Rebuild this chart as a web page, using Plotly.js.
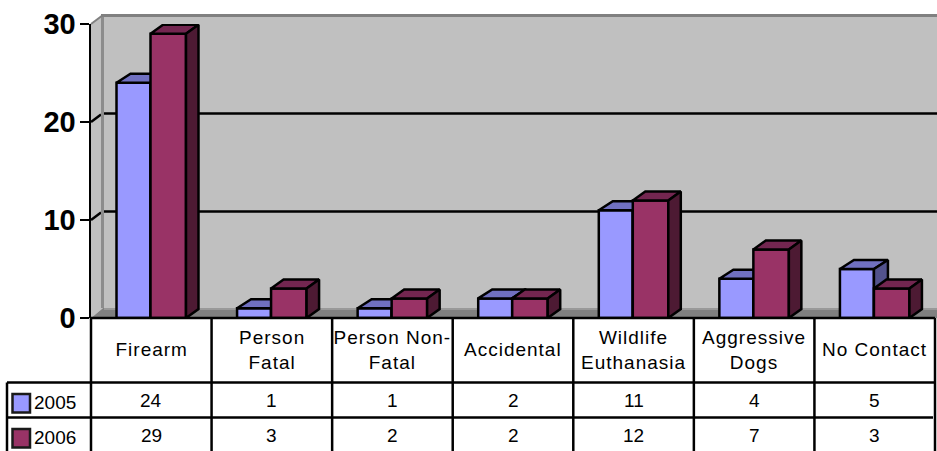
<!DOCTYPE html>
<html>
<head>
<meta charset="utf-8">
<script src="https://cdn.plot.ly/plotly-3.0.1.min.js"></script>
<style>
  html, body { margin: 0; padding: 0; background: #fff; overflow: hidden; }
</style>
</head>
<body>
<div id="chart" style="width:937px;height:451px"></div>
<script>
// Incident counts by category for two years
const categories = ["Firearm", "Person<br>Fatal", "Person Non-<br>Fatal", "Accidental",
                    "Wildlife<br>Euthanasia", "Aggressive<br>Dogs", "No Contact"];
const years = ["2005", "2006"];
const values2005 = [24, 1, 1, 2, 11, 4, 5];
const values2006 = [29, 3, 2, 2, 12, 7, 3];
const yTicks = [0, 10, 20, 30];

// Canvas geometry, in pixels
const W = 937, H = 451;
const L = 91, R = 935, T = 24, B = 318;
const plotW = R - L, plotH = B - T;
const catPx = plotW / categories.length;
const unitPx = plotH / 30;
const RULE = 2.5;

const px = x => (x - L) / plotW;
const py = y => 1 - (y - T) / plotH;

// Faux-3D extrusion expressed in axis units
const barW2005 = 34 / catPx;
const barW2006 = 35.5 / catPx;
const depth2005 = 14 / catPx;
const depth2006 = 12.5 / catPx;
const depthY = 9 / unitPx;

// Top and side faces of a bar series, separated by gaps so one trace holds them all
function facePolys(vals, x0, barW, depthX, face) {
  const xs = [], ys = [];
  vals.forEach((v, i) => {
    const a = i + x0, b = a + barW;
    if (face === "top") {
      xs.push(a, a + depthX, b + depthX, b, a, null);
      ys.push(v, v + depthY, v + depthY, v, v, null);
    } else {
      xs.push(b, b + depthX, b + depthX, b, b, null);
      ys.push(v, v + depthY, depthY, 0, v, null);
    }
  });
  return { x: xs, y: ys };
}

function face(vals, x0, barW, depthX, which, fill, yaxis) {
  const p = facePolys(vals, x0, barW, depthX, which);
  return {
    type: "scatter", mode: "lines", x: p.x, y: p.y, yaxis,
    fill: "toself", fillcolor: fill,
    line: { color: "#000", width: RULE },
    cliponaxis: false, hoverinfo: "skip", showlegend: false
  };
}

function bars(vals, name, off, barW, color, yaxis) {
  return {
    type: "bar", name, x: vals.map((_, i) => i), y: vals, yaxis,
    offset: off, width: barW,
    marker: { color, line: { color: "#000", width: RULE } },
    cliponaxis: false, showlegend: false
  };
}

// 2006 sits on an overlaid axis so its faces stack over the 2005 side faces
const traces = [
  bars(values2005, "2005", -barW2005, barW2005, "#9999FF", "y"),
  face(values2005, -barW2005, barW2005, depth2005, "top", "#7070C0", "y"),
  face(values2005, -barW2005, barW2005, depth2005, "side", "#52528C", "y"),
  bars(values2006, "2006", 0, barW2006, "#993366", "y2"),
  face(values2006, 0, barW2006, depth2006, "top", "#732650", "y2"),
  face(values2006, 0, barW2006, depth2006, "side", "#4D1A33", "y2")
];

const rect = (x0, y0, x1, y1, fill, line, lw) => ({
  type: "rect", xref: "paper", yref: "paper", layer: "below",
  x0: px(x0), x1: px(x1), y0: py(y0), y1: py(y1),
  fillcolor: fill, line: line ? { color: line, width: lw } : { width: 0 }
});
const seg = (x0, y0, x1, y1, color, lw, layer) => ({
  type: "line", xref: "paper", yref: "paper", layer: layer || "above",
  x0: px(x0), x1: px(x1), y0: py(y0), y1: py(y1),
  line: { color, width: lw }
});
const poly = (pts, fill) => ({
  type: "path", xref: "paper", yref: "paper", layer: "below",
  path: "M" + pts.map(p => px(p[0]) * 1 + "," + py(p[1])).join("L") + "Z",
  fillcolor: fill, line: { width: 0 }
});

// Walls and floor
const shapes = [
  rect(103, 15, 937, 308, "#C0C0C0"),
  poly([[91, 24], [103, 15], [103, 308], [91, 318]], "#C0C0C0")
];
// Gridlines on the back wall, with the short diagonal across the side wall
[10, 20].forEach(v => {
  const yFront = B - v * unitPx, yBack = yFront - 8.5;
  shapes.push(seg(104, yBack, 937, yBack, "#000", RULE, "below"));
  shapes.push(seg(91, yFront, 101, yBack + 1, "#000", RULE, "below"));
});
shapes.push(
  poly([[91, 318], [103, 308], [937, 308], [937, 318]], "#808080"),
  rect(104, 308, 937, 310, "#999999"),
  rect(101, 15, 104, 308, "#8C8C8C"),
  rect(101, 14, 937, 17, "#808080"),
  seg(91, 24, 103, 15, "#808080", 2, "below")
);

// Data table rules
const colEdges = categories.map((_, i) => L + catPx * i);
colEdges.slice(1).forEach(x => shapes.push(seg(x, B, x, H, "#000", RULE)));
shapes.push(
  seg(R, B, R, H, "#000", RULE),
  seg(L, B, L, H, "#000", RULE),
  seg(7, 382.5, 7, H, "#000", RULE),
  seg(L, B, R, B, "#000", RULE),
  seg(7, 382.5, R, 382.5, "#000", RULE),
  seg(7, 417.5, 933, 417.5, "#000", RULE)
);
// Legend keys
const keyColors = ["#9999FF", "#993366"];
[[394, 412.5], [429, 447.5]].forEach((r, i) => {
  const k = rect(12.5, r[0], 30, r[1], keyColors[i], "#1a1a1a", RULE);
  k.layer = "above";
  shapes.push(k);
});

const tableFont = { family: "Liberation Sans, Arial, sans-serif", size: 19, color: "#000" };
const note = (text, x, y, align) => ({
  text, xref: "paper", yref: "paper", x: px(x), y: py(y),
  xanchor: align || "center", yanchor: "middle", showarrow: false,
  font: tableFont, align: "center", borderpad: 0
});

const annotations = [];
categories.forEach((c, i) => annotations.push(note(c, L + catPx * (i + 0.5), 350)));
values2005.forEach((v, i) => annotations.push(note(String(v), L + catPx * (i + 0.5), 400)));
values2006.forEach((v, i) => annotations.push(note(String(v), L + catPx * (i + 0.5), 435)));
annotations.push(note(years[0], 33, 402.5, "left"), note(years[1], 33, 437.5, "left"));

const layout = {
  width: W, height: H,
  margin: { l: L, r: W - R, t: T, b: H - B, pad: 0 },
  paper_bgcolor: "#fff", plot_bgcolor: "rgba(0,0,0,0)",
  showlegend: false, barmode: "overlay",
  xaxis: {
    type: "linear",
    range: [-(150.5 - L) / catPx, 7 - (150.5 - L) / catPx],
    showticklabels: false, ticks: "", showgrid: false, zeroline: false, showline: false
  },
  yaxis: {
    range: [0, 30], tickmode: "array", tickvals: yTicks, ticktext: yTicks.map(String),
    ticks: "outside", ticklen: 9, tickwidth: RULE, tickcolor: "#000",
    showline: true, linecolor: "#000", linewidth: RULE,
    showgrid: false, zeroline: false, ticklabelstandoff: -2,
    tickfont: { family: "Liberation Sans, Arial, sans-serif", size: 29, weight: "bold", color: "#000" }
  },
  yaxis2: {
    overlaying: "y", range: [0, 30], side: "left", visible: false,
    showgrid: false, zeroline: false
  },
  shapes, annotations
};

Plotly.newPlot("chart", traces, layout, { displayModeBar: false, staticPlot: true }).then(() => {
  // The category row is set slightly wider than the numeric cells
  const labels = document.querySelectorAll(".annotation-text");
  categories.forEach((_, i) => { if (labels[i]) labels[i].style.letterSpacing = "1px"; });
});
</script>
</body>
</html>
